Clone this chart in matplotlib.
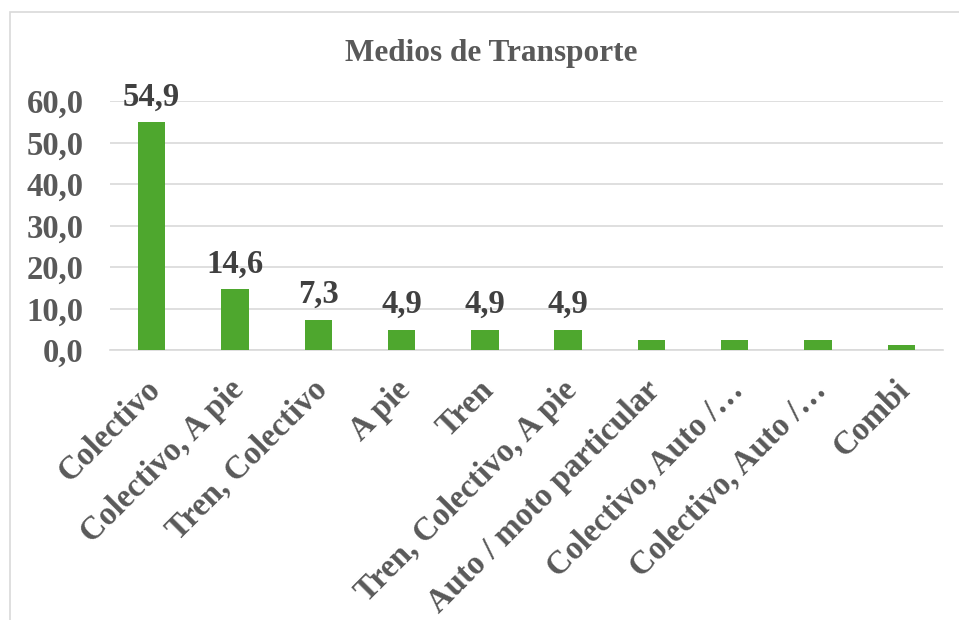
import matplotlib
matplotlib.use("Agg")
import matplotlib.pyplot as plt
from matplotlib.patches import Rectangle
from matplotlib.transforms import ScaledTranslation

categories = ["Colectivo", "Colectivo, A pie", "Tren, Colectivo", "A pie", "Tren",
              "Tren, Colectivo, A pie", "Auto / moto particular", "Colectivo, Auto /…",
              "Colectivo, Auto /…", "Combi"]
values = [54.9, 14.6, 7.3, 4.9, 4.9, 4.9, 2.4, 2.4, 2.4, 1.2]
labels = ["54,9", "14,6", "7,3", "4,9", "4,9", "4,9", "", "", "", ""]
yticks = [0, 10, 20, 30, 40, 50, 60]
ytick_labels = ["0,0", "10,0", "20,0", "30,0", "40,0", "50,0", "60,0"]

plt.rcParams['font.family'] = ['Liberation Serif', 'DejaVu Serif']
W, H = 959, 620
fig = plt.figure(figsize=(W/100, H/100), dpi=100)
fig.patches.append(Rectangle((10/W, -0.1), 1.2, 1 - 12/H + 0.1, transform=fig.transFigure,
                             fill=False, edgecolor="#D9D9D9", linewidth=1.2))

left, right = 110/W, 943/W
bottom, top = 1 - 350/H, 1 - 101/H
ax = fig.add_axes([left, bottom, right - left, top - bottom])
x = list(range(len(categories)))
ax.bar(x, values, width=0.33, color="#4EA72E", zorder=3)
ax.set_xlim(-0.5, len(categories) - 0.5)
ax.set_ylim(0, 60)
ax.set_yticks(yticks)
ax.set_yticklabels(ytick_labels, fontsize=23.5, fontweight="bold", color="#595959")
ax.yaxis.grid(True, color="#D9D9D9", linewidth=1.2, zorder=0)
ax.tick_params(axis="y", length=0, pad=19)
ax.tick_params(axis="x", length=0, pad=6)
for s in ["top", "right", "left"]:
    ax.spines[s].set_visible(False)
ax.spines["bottom"].set_color("#D9D9D9")
ax.spines["bottom"].set_linewidth(1.2)
ax.set_xticks(x)
ax.set_xticklabels(categories, rotation=45, ha="right", rotation_mode="anchor",
                   fontsize=23.5, fontweight="bold", color="#595959")
shift = ScaledTranslation(-7/100, -16/100, fig.dpi_scale_trans)
for t in ax.get_xticklabels():
    t.set_transform(t.get_transform() + shift)
for xi, v, lab in zip(x, values, labels):
    if lab:
        ax.annotate(lab, (xi, v), xytext=(0, 7), textcoords="offset points",
                    ha="center", va="bottom", fontsize=23.5, fontweight="bold", color="#404040")
fig.text(491/W, 1 - 54/H, "Medios de Transporte", ha="center", va="center",
         fontsize=22.5, fontweight="bold", color="#595959")
fig.savefig("out.png", dpi=100)
